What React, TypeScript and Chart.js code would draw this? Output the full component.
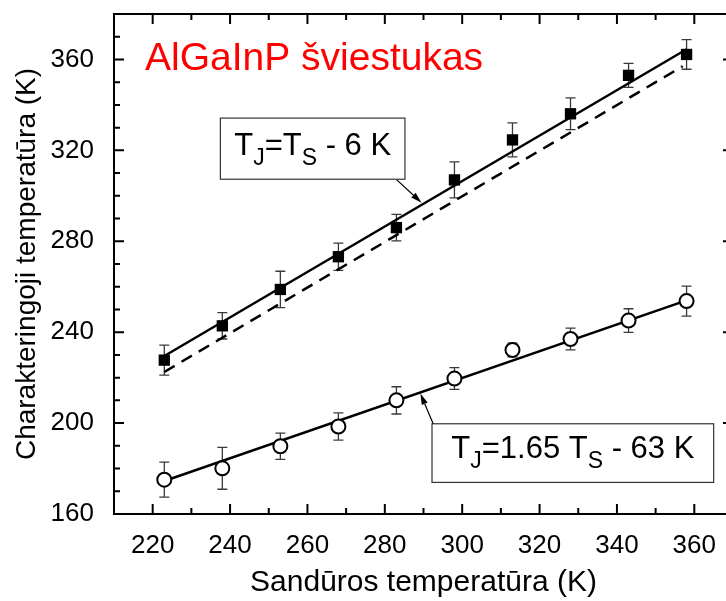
import React, { useEffect, useRef } from 'react';
import { Chart, registerables } from 'chart.js';

Chart.register(...registerables);

// ---- data ----
const tempS = [223, 238, 253, 268, 283, 298, 313, 328, 343, 358];
const squareT = [227.7, 242.8, 258.8, 273.2, 286, 307, 324.6, 336.1, 353, 362.2];
const squareErr = [6.6, 5.8, 8, 6, 5.8, 7.9, 7.5, 7, 5.3, 6.5];
const circleT = [175.1, 180.1, 189.8, 198.5, 210, 219.6, 232.2, 237, 245.1, 253.7];
const circleErr = [7.7, 9.2, 5.8, 6, 6, 4.8, 3, 4.8, 5.2, 6.6];

const fitSquareX = [223, 358];
const fitSquareY = [229.5, 364.5];
const diagX = [223, 357];
const diagY = [222.5, 357];
const fitCircleX = [223, 358];
const fitCircleY = [174.5, 254];

const xMajorTicks = [220, 240, 260, 280, 300, 320, 340, 360];
const yMajorTicks = [160, 200, 240, 280, 320, 360];
const xRange = [210, 370];
const yRange = [160, 380];

const titleText = 'AlGaInP šviestukas';
const xTitle = 'Sandūros temperatūra (K)';
const yTitle = 'Charakteringoji temperatūra (K)';

const FONT = '"Liberation Sans", Arial, sans-serif';

const pts = (xs: number[], ys: number[]) => xs.map((x, i) => ({ x, y: ys[i] }));

function drawSubText(
  ctx: CanvasRenderingContext2D,
  parts: { t: string; sub?: boolean }[],
  cx: number,
  baseline: number,
  size: number,
  subSize: number
) {
  const widths = parts.map((p) => {
    ctx.font = `${p.sub ? subSize : size}px ${FONT}`;
    return ctx.measureText(p.t).width;
  });
  const total = widths.reduce((a, b) => a + b, 0);
  let x = cx - total / 2;
  ctx.textAlign = 'left';
  ctx.textBaseline = 'alphabetic';
  parts.forEach((p, i) => {
    ctx.font = `${p.sub ? subSize : size}px ${FONT}`;
    ctx.fillText(p.t, x, p.sub ? baseline + 10 : baseline);
    x += widths[i];
  });
}

function arrow(ctx: CanvasRenderingContext2D, x1: number, y1: number, x2: number, y2: number) {
  const ang = Math.atan2(y2 - y1, x2 - x1);
  const len = 11;
  const hw = 3.2;
  const bx = x2 - len * Math.cos(ang);
  const by = y2 - len * Math.sin(ang);
  ctx.beginPath();
  ctx.moveTo(x1, y1);
  ctx.lineTo(bx, by);
  ctx.lineWidth = 1.2;
  ctx.strokeStyle = '#000';
  ctx.stroke();
  ctx.beginPath();
  ctx.moveTo(x2, y2);
  ctx.lineTo(bx + hw * Math.sin(ang), by - hw * Math.cos(ang));
  ctx.lineTo(bx - hw * Math.sin(ang), by + hw * Math.cos(ang));
  ctx.closePath();
  ctx.fillStyle = '#000';
  ctx.fill();
}

const errorBars = {
  id: 'errorBars',
  beforeDatasetsDraw(chart: any) {
    const { ctx, scales } = chart;
    const xs = scales.x;
    const ys = scales.y;
    ctx.save();
    ctx.strokeStyle = '#3a3a3a';
    ctx.lineWidth = 1.3;
    const draw = (vals: number[], errs: number[]) => {
      tempS.forEach((t, i) => {
        const px = xs.getPixelForValue(t);
        const top = ys.getPixelForValue(vals[i] + errs[i]);
        const bot = ys.getPixelForValue(vals[i] - errs[i]);
        ctx.beginPath();
        ctx.moveTo(px, top);
        ctx.lineTo(px, bot);
        ctx.moveTo(px - 5, top);
        ctx.lineTo(px + 5, top);
        ctx.moveTo(px - 5, bot);
        ctx.lineTo(px + 5, bot);
        ctx.stroke();
      });
    };
    draw(squareT, squareErr);
    draw(circleT, circleErr);
    ctx.restore();
  },
};

const frameTicks = {
  id: 'frameTicks',
  afterDraw(chart: any) {
    const { ctx, chartArea, scales } = chart;
    const xs = scales.x;
    const ys = scales.y;
    const { left, right, top, bottom } = chartArea;
    ctx.save();
    ctx.strokeStyle = '#000';
    ctx.lineWidth = 2;
    ctx.strokeRect(left, top, right - left, bottom - top);
    ctx.beginPath();
    for (let v = xRange[0]; v <= xRange[1]; v += 10) {
      const px = xs.getPixelForValue(v);
      const len = v % 20 === 0 ? 10 : 6;
      ctx.moveTo(px, bottom);
      ctx.lineTo(px, bottom - len);
      ctx.moveTo(px, top);
      ctx.lineTo(px, top + len);
    }
    for (let v = yRange[0]; v <= yRange[1]; v += 10) {
      const py = ys.getPixelForValue(v);
      const len = (v - 160) % 40 === 0 ? 10 : 6;
      ctx.moveTo(left, py);
      ctx.lineTo(left + len, py);
      ctx.moveTo(right, py);
      ctx.lineTo(right - len, py);
    }
    ctx.stroke();
    ctx.restore();
  },
};

const annotations = {
  id: 'annotations',
  afterDraw(chart: any) {
    const { ctx, scales } = chart;
    const X = (v: number) => scales.x.getPixelForValue(v);
    const Y = (v: number) => scales.y.getPixelForValue(v);
    ctx.save();
    // title
    ctx.fillStyle = '#ff0000';
    ctx.font = `39px ${FONT}`;
    ctx.textAlign = 'left';
    ctx.textBaseline = 'alphabetic';
    ctx.fillText(titleText, X(218), Y(355.3));

    // box 1
    const b1 = { x1: X(237.5), x2: X(285.2), y1: Y(334.2), y2: Y(307.3) };
    ctx.fillStyle = '#fff';
    ctx.fillRect(b1.x1, b1.y1, b1.x2 - b1.x1, b1.y2 - b1.y1);
    ctx.strokeStyle = '#333';
    ctx.lineWidth = 1.2;
    ctx.strokeRect(b1.x1, b1.y1, b1.x2 - b1.x1, b1.y2 - b1.y1);
    ctx.fillStyle = '#000';
    drawSubText(
      ctx,
      [{ t: 'T' }, { t: 'J', sub: true }, { t: '=T' }, { t: 'S', sub: true }, { t: ' - 6 K' }],
      (b1.x1 + b1.x2) / 2,
      (b1.y1 + b1.y2) / 2 + 6,
      31,
      23
    );
    arrow(ctx, X(283.1), Y(307.0), X(289.5), Y(297));

    // box 2
    const b2 = { x1: X(292.2), x2: X(365), y1: Y(199.7), y2: Y(173.9) };
    ctx.fillStyle = '#fff';
    ctx.fillRect(b2.x1, b2.y1, b2.x2 - b2.x1, b2.y2 - b2.y1);
    ctx.strokeStyle = '#333';
    ctx.lineWidth = 1.2;
    ctx.strokeRect(b2.x1, b2.y1, b2.x2 - b2.x1, b2.y2 - b2.y1);
    ctx.fillStyle = '#000';
    drawSubText(
      ctx,
      [{ t: 'T' }, { t: 'J', sub: true }, { t: '=1.65 T' }, { t: 'S', sub: true }, { t: ' - 63 K' }],
      (b2.x1 + b2.x2) / 2,
      (b2.y1 + b2.y2) / 2 + 5,
      31,
      23
    );
    arrow(ctx, X(292.5), Y(199.7), X(289.2), Y(213));
    ctx.restore();
  },
};

const zeroPad = (s: any) => {
  s.paddingTop = 0;
  s.paddingBottom = 0;
  s.paddingLeft = 0;
  s.paddingRight = 0;
};

export default function App() {
  const ref = useRef<HTMLCanvasElement | null>(null);
  useEffect(() => {
    if (!ref.current) return;
    const chart = new Chart(ref.current, {
      type: 'scatter',
      data: {
        datasets: [
          {
            label: 'squares',
            data: pts(tempS, squareT),
            pointStyle: 'rect',
            pointRadius: 8,
            backgroundColor: '#000',
            borderColor: '#000',
            borderWidth: 0,
          },
          {
            label: 'circles',
            data: pts(tempS, circleT),
            pointStyle: 'circle',
            pointRadius: 7,
            backgroundColor: '#fff',
            borderColor: '#000',
            borderWidth: 2,
          },
          {
            label: 'fitSquare',
            data: pts(fitSquareX, fitSquareY),
            showLine: true,
            pointRadius: 0,
            borderColor: '#000',
            borderWidth: 2.5,
          },
          {
            label: 'diag',
            data: pts(diagX, diagY),
            showLine: true,
            pointRadius: 0,
            borderColor: '#000',
            borderWidth: 2.5,
            borderDash: [12, 8],
          },
          {
            label: 'fitCircle',
            data: pts(fitCircleX, fitCircleY),
            showLine: true,
            pointRadius: 0,
            borderColor: '#000',
            borderWidth: 2.5,
          },
        ],
      },
      options: {
        responsive: false,
        maintainAspectRatio: false,
        animation: false,
        devicePixelRatio: 1,
        layout: { padding: { left: 0, top: 14, right: 12, bottom: 0 } },
        plugins: { legend: { display: false }, tooltip: { enabled: false } },
        scales: {
          x: {
            type: 'linear',
            position: 'bottom',
            min: xRange[0],
            max: xRange[1],
            afterBuildTicks: (s: any) => {
              s.ticks = xMajorTicks.map((v) => ({ value: v }));
            },
            afterFit: (s: any) => {
              s.height = 87;
              zeroPad(s);
            },
            grid: { display: false },
            border: { display: false },
            ticks: {
              autoSkip: false,
              maxRotation: 0,
              padding: 8,
              color: '#000',
              font: { family: FONT, size: 26 },
            },
            title: {
              display: true,
              text: xTitle,
              color: '#000',
              font: { family: FONT, size: 30 },
              padding: { top: 0, bottom: 0 },
            },
          },
          y: {
            type: 'linear',
            position: 'left',
            min: yRange[0],
            max: yRange[1],
            afterBuildTicks: (s: any) => {
              s.ticks = yMajorTicks.map((v) => ({ value: v }));
            },
            afterFit: (s: any) => {
              s.width = 114;
              zeroPad(s);
            },
            grid: { display: false },
            border: { display: false },
            ticks: {
              autoSkip: false,
              padding: 12,
              color: '#000',
              font: { family: FONT, size: 26 },
            },
            title: {
              display: true,
              text: yTitle,
              color: '#000',
              font: { family: FONT, size: 28 },
              padding: { top: 10, bottom: 0 },
            },
          },
        },
      },
      plugins: [errorBars, frameTicks, annotations],
    });
    return () => chart.destroy();
  }, []);

  return (
    <div
      style={{
        position: 'fixed',
        left: 0,
        top: 0,
        width: 726,
        height: 601,
        overflow: 'hidden',
        background: '#fff',
      }}
    >
      <canvas ref={ref} width={745} height={601} style={{ display: 'block', width: 745, height: 601 }} />
    </div>
  );
}
